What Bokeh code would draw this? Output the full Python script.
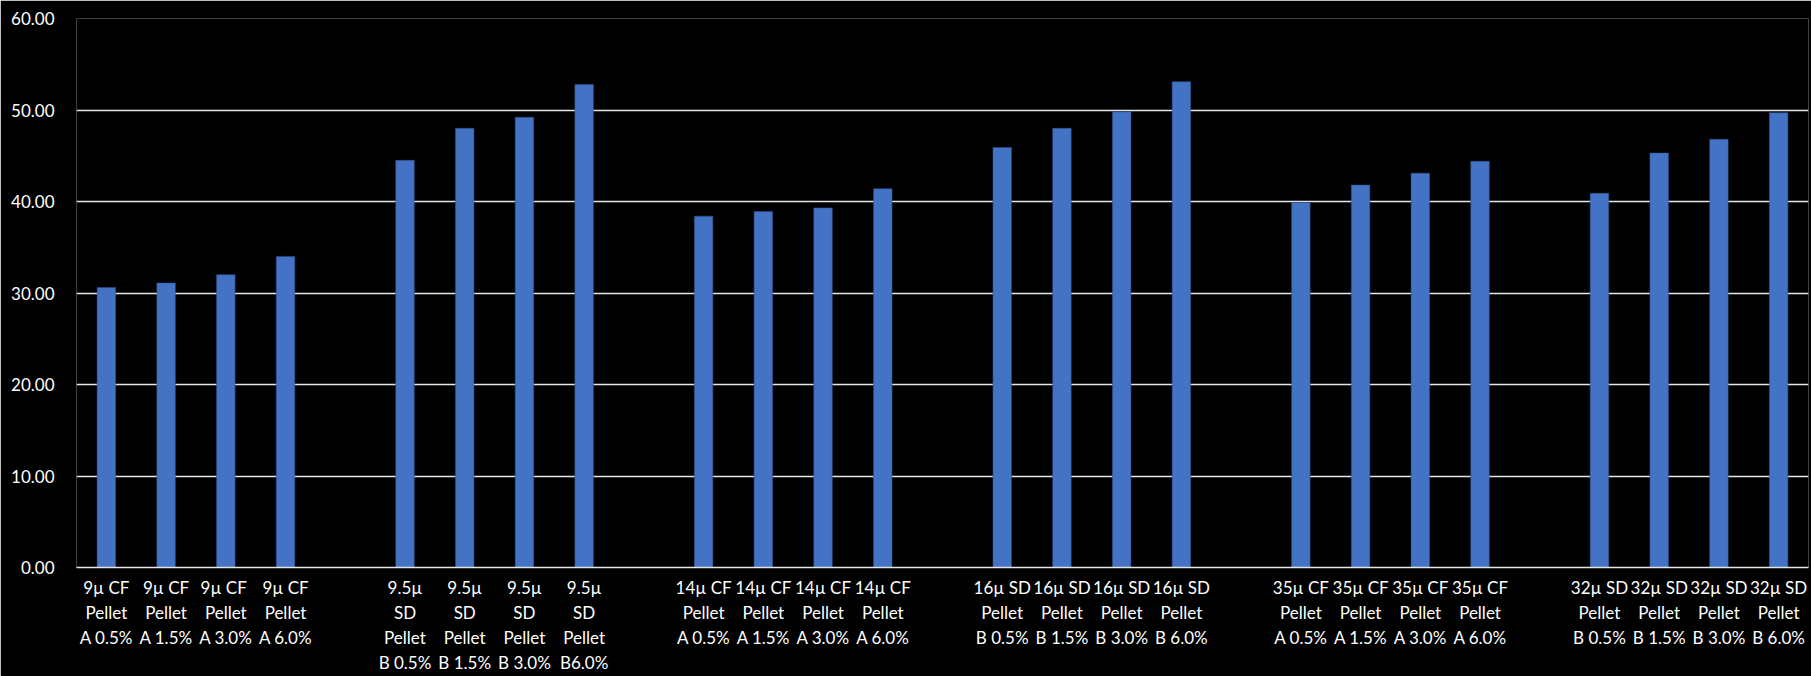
from bokeh.plotting import figure
from bokeh.models import FactorRange, ColumnDataSource, FixedTicker, NumeralTickFormatter
from bokeh.embed import file_html
from bokeh.resources import INLINE

# Sample labels (one list per fibre/pellet group) and measured values
groups = [
    ["9µ CF\nPellet\nA 0.5%", "9µ CF\nPellet\nA 1.5%", "9µ  CF\nPellet\nA 3.0%", "9µ CF\nPellet\nA 6.0%"],
    ["9.5µ\nSD\nPellet\nB 0.5%", "9.5µ\nSD\nPellet\nB 1.5%", "9.5µ\nSD\nPellet\nB 3.0%", "9.5µ\nSD\nPellet\nB6.0%"],
    ["14µ CF\nPellet\nA 0.5%", "14µ CF\nPellet\nA 1.5%", "14µ CF\nPellet\nA 3.0%", "14µ CF\nPellet\nA 6.0%"],
    ["16µ SD\nPellet\nB 0.5%", "16µ SD\nPellet\nB 1.5%", "16µ SD\nPellet\nB 3.0%", "16µ SD\nPellet\nB 6.0%"],
    ["35µ CF\nPellet\nA 0.5%", "35µ CF\nPellet\nA 1.5%", "35µ CF\nPellet\nA 3.0%", "35µ CF\nPellet\nA 6.0%"],
    ["32µ SD\nPellet\nB 0.5%", "32µ SD\nPellet\nB 1.5%", "32µ SD\nPellet\nB 3.0%", "32µ SD\nPellet\nB 6.0%"],
]
values_9cf = [30.6, 31.1, 32.0, 34.0]
values_95sd = [44.5, 48.0, 49.2, 52.8]
values_14cf = [38.4, 38.9, 39.3, 41.4]
values_16sd = [45.9, 48.0, 49.8, 53.1]
values_35cf = [39.9, 41.8, 43.1, 44.4]
values_32sd = [40.9, 45.3, 46.8, 49.7]
all_values = [values_9cf, values_95sd, values_14cf, values_16sd, values_35cf, values_32sd]
y_ticks = [0, 10, 20, 30, 40, 50, 60]

# Flat factor list with a blank spacer slot between groups
factors, bar_x, bar_top = [], [], []
for gi, (labels, vals) in enumerate(zip(groups, all_values)):
    if gi > 0:
        factors.append(" " * gi)
    factors.extend(labels)
    bar_x.extend(labels)
    bar_top.extend(vals)

source = ColumnDataSource(data=dict(x=bar_x, top=bar_top))

p = figure(
    width=1811, height=676,
    x_range=FactorRange(factors=factors, range_padding=0),
    y_range=(0, 60),
    output_backend="svg", toolbar_location=None,
    min_border_left=76, min_border_right=3, min_border_top=18, min_border_bottom=100,
)
p.background_fill_color = "black"
p.border_fill_color = "black"
p.outline_line_color = None

p.vbar(x="x", top="top", width=0.31, source=source, fill_color="#4472C4", line_color="#2F528F", line_width=0.5)

p.xgrid.grid_line_color = None
p.ygrid.grid_line_color = "#e6e6e6"
p.ygrid.grid_line_width = 1.5
p.ygrid.ticker = FixedTicker(ticks=y_ticks)

p.yaxis.ticker = FixedTicker(ticks=y_ticks)
p.yaxis.formatter = NumeralTickFormatter(format="0.00")
p.yaxis.axis_line_color = None
p.yaxis.major_tick_line_color = None
p.yaxis.minor_tick_line_color = None
p.yaxis.major_label_standoff = 16
p.yaxis.major_label_text_color = "#ffffff"
p.yaxis.major_label_text_font = "Lato"
p.yaxis.major_label_text_font_size = "17px"

p.xaxis.axis_line_color = "#e6e6e6"
p.xaxis.axis_line_width = 1.5
p.xaxis.major_tick_line_color = None
p.xaxis.minor_tick_line_color = None
p.xaxis.major_label_standoff = 3
p.xaxis.major_label_text_color = "#ffffff"
p.xaxis.major_label_text_font = "Lato"
p.xaxis.major_label_text_font_size = "17px"
p.xaxis.major_label_text_line_height = 1.2

open("out.html", "w").write(file_html(p, INLINE))
